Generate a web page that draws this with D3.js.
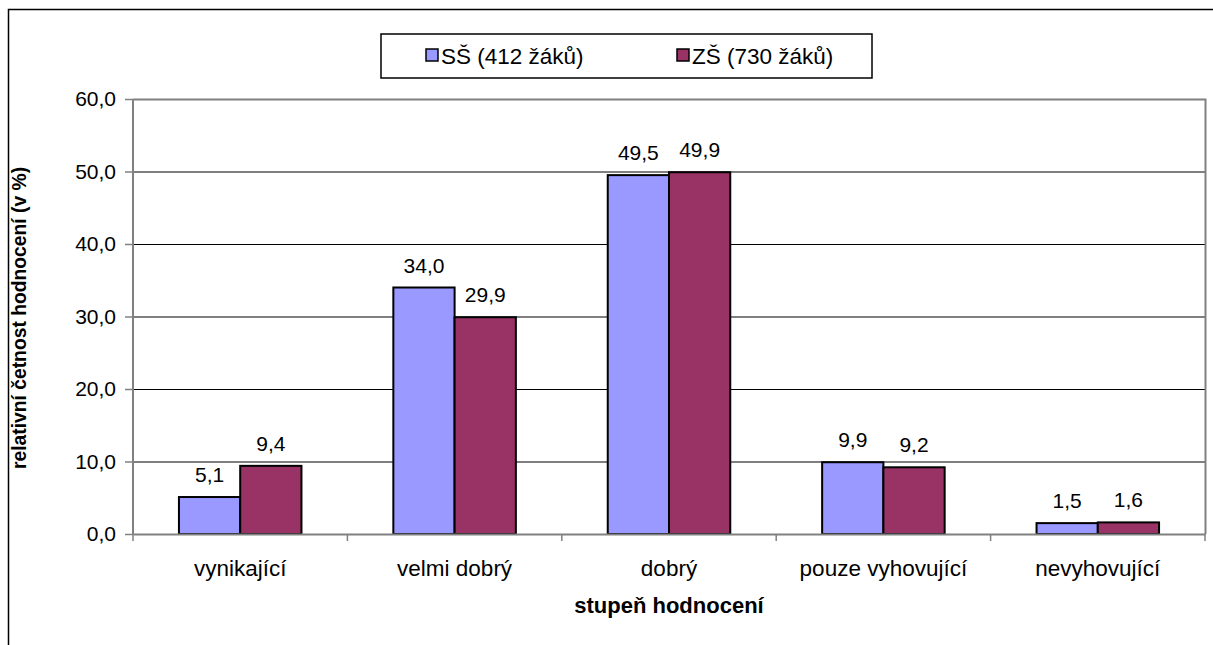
<!DOCTYPE html>
<html>
<head>
<meta charset="utf-8">
<script src="https://cdn.jsdelivr.net/npm/d3@7"></script>
<style>
  body { margin: 0; background: #fff; }
  text { font-family: "Liberation Sans", Arial, sans-serif; }
</style>
</head>
<body>
<svg id="chart" width="1213" height="645"></svg>
<script>
// kategorie a hodnoty
var categories = ["vynikající", "velmi dobrý", "dobrý", "pouze vyhovující", "nevyhovující"];
var seriesNames = ["SŠ (412 žáků)", "ZŠ (730 žáků)"];
var ssValues = [5.1, 34.0, 49.5, 9.9, 1.5];
var zsValues = [9.4, 29.9, 49.9, 9.2, 1.6];
var yTicks = [0, 10, 20, 30, 40, 50, 60];
var colors = ["#9999ff", "#993366"];

var svg = d3.select("#chart");
var fmt = function(v) { return d3.format(".1f")(v).replace(".", ","); };
var FS = 21;

// vnější rámeček
svg.append("rect")
  .attr("x", 8.5).attr("y", 9.5).attr("width", 1240).attr("height", 700)
  .attr("fill", "none").attr("stroke", "#000").attr("stroke-width", 1.5);

var plot = { left: 133, right: 1205, top: 99, bottom: 534 };

var x = d3.scaleBand().domain(categories).range([plot.left, plot.right]);
var y = d3.scaleLinear().domain([0, 60]).range([plot.bottom, plot.top]);
var barW = x.bandwidth() / 3.5;

// mřížka
svg.append("g").selectAll("line").data(yTicks.slice(1, -1)).join("line")
  .attr("x1", plot.left).attr("x2", plot.right)
  .attr("y1", function(d) { return y(d) + 0.5; })
  .attr("y2", function(d) { return y(d) + 0.5; })
  .attr("stroke", "#000").attr("stroke-width", 1);

// rámeček plochy grafu (šedý)
svg.append("path")
  .attr("d", "M" + plot.left + "," + (plot.top + 0.5) + "H" + (plot.right + 0.5) + "V" + plot.bottom)
  .attr("fill", "none").attr("stroke", "#808080").attr("stroke-width", 2);

// sloupce
var rows = categories.map(function(c, i) { return { cat: c, vals: [ssValues[i], zsValues[i]] }; });
var groups = svg.append("g").selectAll("g").data(rows).join("g");

groups.selectAll("rect").data(function(d) {
    return d.vals.map(function(v, j) { return { cat: d.cat, v: v, j: j }; });
  }).join("rect")
  .attr("x", function(d) { return x(d.cat) + x.bandwidth() / 2 - barW + d.j * barW; })
  .attr("y", function(d) { return y(d.v); })
  .attr("width", barW)
  .attr("height", function(d) { return y(0) - y(d.v); })
  .attr("fill", function(d) { return colors[d.j]; })
  .attr("stroke", "#000").attr("stroke-width", 2);

groups.selectAll("text").data(function(d) {
    return d.vals.map(function(v, j) { return { cat: d.cat, v: v, j: j }; });
  }).join("text")
  .attr("x", function(d) { return x(d.cat) + x.bandwidth() / 2 - barW / 2 + d.j * barW; })
  .attr("y", function(d) { return y(d.v) - 15; })
  .attr("text-anchor", "middle")
  .attr("font-size", FS)
  .text(function(d) { return fmt(d.v); });

// osa y
var yAxis = svg.append("g")
  .attr("transform", "translate(" + plot.left + ",0)")
  .call(d3.axisLeft(y).tickValues(yTicks).tickSize(8).tickPadding(9).tickFormat(fmt));
yAxis.attr("font-size", FS).attr("font-family", "Liberation Sans, Arial, sans-serif");
yAxis.select(".domain").attr("stroke", "#808080").attr("stroke-width", 2).attr("d", "M0," + plot.top + "V" + plot.bottom);
yAxis.selectAll(".tick line").attr("stroke", "#808080").attr("stroke-width", 1.5);
yAxis.selectAll("text").attr("fill", "#000");

// osa x
var xAxis = svg.append("g")
  .attr("transform", "translate(0," + plot.bottom + ")")
  .call(d3.axisBottom(x).tickSize(0).tickPadding(26));
xAxis.attr("font-size", 22.5).attr("font-family", "Liberation Sans, Arial, sans-serif");
xAxis.select(".domain").attr("stroke", "#808080").attr("stroke-width", 2);
xAxis.selectAll("text").attr("fill", "#000");

// dělicí čárky mezi kategoriemi
svg.append("g").selectAll("line").data(categories.concat([null])).join("line")
  .attr("x1", function(d) { return d ? x(d) : plot.right; })
  .attr("x2", function(d) { return d ? x(d) : plot.right; })
  .attr("y1", plot.bottom).attr("y2", plot.bottom + 7)
  .attr("stroke", "#808080").attr("stroke-width", 1.5);

// popisky os
svg.append("text")
  .attr("x", 669).attr("y", 613)
  .attr("text-anchor", "middle").attr("font-size", 22).attr("font-weight", "bold")
  .text("stupeň hodnocení");

svg.append("text")
  .attr("transform", "translate(26,318) rotate(-90)")
  .attr("text-anchor", "middle").attr("font-size", 19.3).attr("font-weight", "bold")
  .text("relativní četnost hodnocení (v %)");

// legenda
var legend = svg.append("g");
legend.append("rect")
  .attr("x", 381).attr("y", 34).attr("width", 491).attr("height", 44)
  .attr("fill", "#fff").attr("stroke", "#000").attr("stroke-width", 1.5);
var legendX = [426, 677];
seriesNames.forEach(function(name, i) {
  legend.append("rect")
    .attr("x", legendX[i]).attr("y", 49).attr("width", 12).attr("height", 12)
    .attr("fill", colors[i]).attr("stroke", "#000").attr("stroke-width", 1.5);
  legend.append("text")
    .attr("x", legendX[i] + 15).attr("y", 64)
    .attr("font-size", 22.5)
    .text(name);
});
</script>
</body>
</html>
